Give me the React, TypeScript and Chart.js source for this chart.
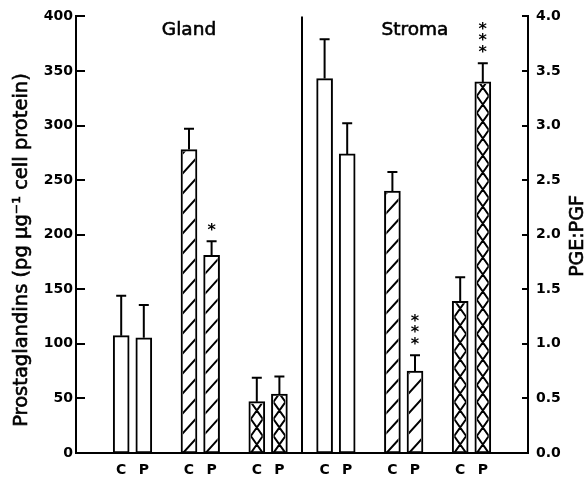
import { useEffect, useRef } from 'react';
import { Chart, registerables } from 'chart.js';

Chart.register(...registerables);

// ---- data ----
const tissues = ['Gland', 'Stroma'];
const treatments = ['C', 'P'];
// order in each array: Gland C, Gland P, Stroma C, Stroma P
const pgeValues = [107.5, 105.5, 343, 274];
const pgeErrors = [36.5, 30, 36, 28];
const pgeStars = ['', '', '', ''];
const pgfValues = [278, 181, 240, 75];
const pgfErrors = [19, 13, 17.5, 14.5];
const pgfStars = ['', '*', '', '***'];
const ratioValues = [0.47, 0.54, 1.39, 3.4];
const ratioErrors = [0.22, 0.16, 0.22, 0.17];
const ratioStars = ['', '', '', '***'];
const leftAxisTitle = 'Prostaglandins (pg µg⁻¹ cell protein)';
const rightAxisTitle = 'PGE:PGF';

const FONT = "'DejaVu Sans', sans-serif";

const seriesDefs = [
  { name: 'PGE', values: pgeValues, errors: pgeErrors, stars: pgeStars, axis: 'y', pattern: 'none' },
  { name: 'PGF', values: pgfValues, errors: pgfErrors, stars: pgfStars, axis: 'y', pattern: 'hatch' },
  { name: 'PGE:PGF', values: ratioValues, errors: ratioErrors, stars: ratioStars, axis: 'y2', pattern: 'cross' },
];

// category slots: two leading blanks, then per tissue per series "C","P",blank, one trailing blank
const LEAD = 2;
const labels: string[] = [];
for (let i = 0; i < LEAD; i++) labels.push('');
tissues.forEach(() => {
  seriesDefs.forEach(() => {
    treatments.forEach((t) => labels.push(t));
    labels.push('');
  });
});
labels.push('');
const slotOf = (t: number, s: number, c: number) => LEAD + (t * seriesDefs.length + s) * (treatments.length + 1) + c;
const dividerSlot = slotOf(1, 0, 0) - 1;

const datasets = seriesDefs.map((sd, s) => {
  const data: (number | null)[] = new Array(labels.length).fill(null);
  const errs: (number | null)[] = new Array(labels.length).fill(null);
  const stars: string[] = new Array(labels.length).fill('');
  tissues.forEach((_, t) => {
    treatments.forEach((_, c) => {
      const k = t * treatments.length + c;
      const slot = slotOf(t, s, c);
      data[slot] = sd.values[k];
      errs[slot] = sd.errors[k];
      stars[slot] = sd.stars[k];
    });
  });
  return {
    label: sd.name,
    data,
    errors: errs,
    stars,
    pattern: sd.pattern,
    yAxisID: sd.axis,
    backgroundColor: '#ffffff',
    borderColor: '#000000',
    borderWidth: 2,
    borderSkipped: false,
    barThickness: 16,
    grouped: false,
  } as any;
});

function heavyText(ctx: CanvasRenderingContext2D, text: string, x: number, y: number) {
  ctx.fillText(text, x, y);
  ctx.lineWidth = 0.6;
  ctx.strokeText(text, x, y);
}

const decorPlugin = {
  id: 'decor',
  afterDatasetsDraw(chart: any) {
    const ctx = chart.ctx as CanvasRenderingContext2D;
    chart.data.datasets.forEach((ds: any, di: number) => {
      const meta = chart.getDatasetMeta(di);
      const yScale = chart.scales[ds.yAxisID];
      meta.data.forEach((el: any, i: number) => {
        const v = ds.data[i];
        if (v == null) return;
        const { x, y, base, width } = el.getProps(['x', 'y', 'base', 'width'], true);
        const bw = 2;
        const L = x - width / 2 + bw;
        const R = x + width / 2 - bw;
        const T = y + bw;
        const B = base;
        if (ds.pattern !== 'none') {
          ctx.save();
          ctx.beginPath();
          ctx.rect(L, T, R - L, B - T);
          ctx.clip();
          ctx.strokeStyle = '#000';
          ctx.lineWidth = 2;
          ctx.beginPath();
          if (ds.pattern === 'hatch') {
            const P = 20;
            const rise = (R - L) * 1.1;
            for (let k = -3; k < 60; k++) {
              const y0 = B - k * P;
              ctx.moveTo(L - 1, y0 + 1.1);
              ctx.lineTo(R + 1, y0 - rise - 1.1);
            }
          } else {
            const P = 17;
            const s = P / (R - L);
            for (let k = -3; k < 80; k++) {
              const y0 = B - k * P;
              ctx.moveTo(L, y0);
              ctx.lineTo(R, y0 - s * (R - L));
              ctx.moveTo(L, y0);
              ctx.lineTo(R, y0 + s * (R - L));
            }
          }
          ctx.stroke();
          ctx.restore();
        }
        const err = ds.errors[i];
        if (err) {
          const yt = yScale.getPixelForValue(v + err);
          ctx.save();
          ctx.strokeStyle = '#000';
          ctx.lineWidth = 2;
          ctx.beginPath();
          ctx.moveTo(x, y);
          ctx.lineTo(x, yt);
          ctx.moveTo(x - 5, yt);
          ctx.lineTo(x + 5, yt);
          ctx.stroke();
          const st: string = ds.stars[i] || '';
          ctx.fillStyle = '#000';
          ctx.font = `bold 16px ${FONT}`;
          ctx.textAlign = 'center';
          ctx.textBaseline = 'middle';
          for (let j = 0; j < st.length; j++) {
            const cy = yt - 14 - j * 11.5;
            ctx.fillText(st[j], x, cy + 3.5);
          }
          ctx.restore();
        }
      });
    });
  },
  afterDraw(chart: any) {
    const ctx = chart.ctx as CanvasRenderingContext2D;
    const { chartArea } = chart;
    const xs = chart.scales.x;
    const ys = chart.scales.y;
    const y2 = chart.scales.y2;
    ctx.save();
    ctx.strokeStyle = '#000';
    ctx.fillStyle = '#000';
    // inward tick marks
    ctx.lineWidth = 2;
    ctx.beginPath();
    ys.ticks.forEach((t: any) => {
      const py = Math.round(ys.getPixelForValue(t.value));
      ctx.moveTo(chartArea.left, py);
      ctx.lineTo(chartArea.left + 9, py);
    });
    y2.ticks.forEach((t: any) => {
      const py = Math.round(y2.getPixelForValue(t.value));
      ctx.moveTo(chartArea.right - 6, py);
      ctx.lineTo(chartArea.right, py);
    });
    ctx.stroke();
    // divider
    const dx = xs.getPixelForValue(dividerSlot);
    ctx.beginPath();
    ctx.moveTo(dx, chartArea.top);
    ctx.lineTo(dx, chartArea.bottom);
    ctx.stroke();
    // section titles
    ctx.font = `18.5px ${FONT}`;
    ctx.textAlign = 'center';
    ctx.textBaseline = 'middle';
    heavyText(ctx, tissues[0], (chartArea.left + dx) / 2, 30);
    heavyText(ctx, tissues[1], (dx + chartArea.right) / 2, 30);
    // axis titles
    ctx.font = `19.5px ${FONT}`;
    ctx.save();
    ctx.translate(22, 250);
    ctx.rotate(-Math.PI / 2);
    heavyText(ctx, leftAxisTitle, 0, 0);
    ctx.restore();
    ctx.font = `19px ${FONT}`;
    ctx.save();
    ctx.translate(578, 236);
    ctx.rotate(-Math.PI / 2);
    heavyText(ctx, rightAxisTitle, 0, 0);
    ctx.restore();
    ctx.restore();
  },
};

const tickFont = { family: FONT, size: 14, weight: 'bold' as const };

export default function App() {
  const ref = useRef<HTMLCanvasElement>(null);
  useEffect(() => {
    if (!ref.current) return;
    const chart = new Chart(ref.current, {
      type: 'bar',
      data: { labels, datasets },
      options: {
        responsive: false,
        animation: false,
        layout: { padding: { top: 13, left: 0, right: 0, bottom: 0 } },
        plugins: { legend: { display: false }, tooltip: { enabled: false } },
        scales: {
          x: {
            type: 'category',
            offset: false,
            grid: { display: false, drawTicks: false },
            border: { display: true, color: '#000', width: 2 },
            ticks: { autoSkip: false, maxRotation: 0, minRotation: 0, color: '#000', font: tickFont, padding: 9 },
            afterFit: (s: any) => { s.height = 28; },
          },
          y: {
            position: 'left',
            min: 0,
            max: 400,
            grid: { display: false, drawTicks: false },
            border: { display: true, color: '#000', width: 2 },
            ticks: { stepSize: 50, color: '#000', font: tickFont, padding: 3 },
            afterFit: (s: any) => { s.width = 76; },
          },
          y2: {
            position: 'right',
            min: 0,
            max: 4,
            grid: { display: false, drawTicks: false },
            border: { display: true, color: '#000', width: 2 },
            ticks: { stepSize: 0.5, color: '#000', font: tickFont, padding: 8, callback: (v: any) => Number(v).toFixed(1) },
            afterFit: (s: any) => { s.width = 60; },
          },
        },
      } as any,
      plugins: [decorPlugin],
    });
    return () => chart.destroy();
  }, []);
  return (
    <div style={{ position: 'absolute', left: 0, top: 0, width: 588, height: 481, background: '#fff' }}>
      <canvas ref={ref} width={588} height={481} style={{ display: 'block', width: 588, height: 481 }} />
    </div>
  );
}
